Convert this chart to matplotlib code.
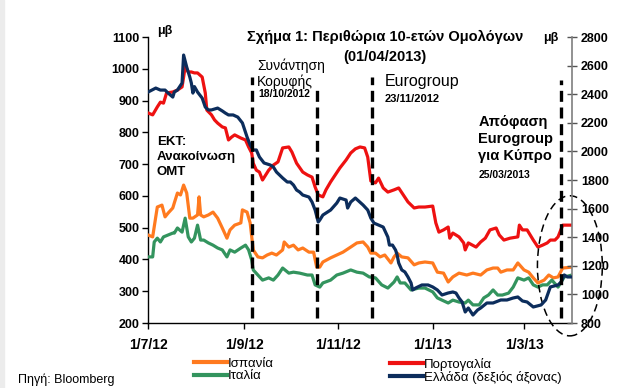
import numpy as np
import pandas as pd
import matplotlib
matplotlib.use("Agg")
import matplotlib.pyplot as plt
from matplotlib.patches import Ellipse, Rectangle
from matplotlib.lines import Line2D

plt.rcParams['font.family'] = ['Liberation Sans', 'DejaVu Sans']

START = pd.Timestamp('2012-07-01')

# days since 1/7/2012 and spreads in basis points
greece_days = [0, 5, 8, 11, 13, 16, 17, 19, 22, 23, 25, 27, 28, 29, 30, 32, 35, 37, 39, 41,
               45, 48, 50, 52, 55, 58, 61, 64, 66, 68, 70, 72, 75, 79, 81, 83, 85, 87, 90, 92,
               94, 96, 98, 100, 104, 106, 108, 110, 111, 113, 118, 122, 124, 128, 129, 131, 134,
               139, 142, 144, 146, 149, 152, 155, 156, 158, 160, 161, 162, 164, 166, 168, 170,
               171, 173, 177, 181, 184, 187, 190, 194, 197, 199, 201, 203, 205, 207, 210, 213,
               215, 219, 223, 228, 232, 236, 239, 242, 245, 249, 254, 257, 260, 265, 267, 269,
               271, 274]
greece = [2415, 2443, 2429, 2429, 2408, 2380, 2415, 2429, 2478, 2674, 2590, 2520, 2478, 2408,
          2453, 2415, 2373, 2310, 2290, 2290, 2303, 2283, 2268, 2255, 2255, 2240, 2199, 2101,
          2045, 2010, 2010, 1961, 1919, 1905, 1891, 1856, 1835, 1814, 1786, 1786, 1765, 1730,
          1716, 1695, 1681, 1646, 1590, 1506, 1520, 1555, 1590, 1639, 1674, 1660, 1604, 1646,
          1674, 1625, 1590, 1534, 1499, 1485, 1471, 1401, 1345, 1345, 1310, 1276, 1220, 1171,
          1157, 1122, 1080, 1031, 1045, 1066, 1066, 1052, 1031, 996, 1010, 1017, 1010, 975,
          947, 877, 905, 856, 891, 905, 940, 940, 961, 961, 975, 982, 954, 947, 912, 926, 961,
          1052, 1066, 1087, 1136, 1122, 1122]

portugal_days = [0, 3, 6, 8, 10, 12, 16, 19, 22, 23, 24, 26, 28, 30, 32, 35, 37, 38, 41, 43,
                 45, 48, 50, 52, 54, 56, 60, 63, 65, 67, 68, 70, 72, 74, 78, 81, 84, 87, 91, 93,
                 96, 100, 103, 106, 108, 110, 113, 115, 118, 121, 124, 128, 131, 134, 137, 140,
                 142, 144, 147, 149, 152, 155, 159, 162, 165, 168, 172, 175, 179, 184, 186, 188,
                 191, 194, 195, 197, 201, 204, 205, 207, 212, 215, 218, 221, 225, 227, 230, 234,
                 239, 240, 242, 245, 249, 252, 255, 258, 260, 263, 265, 268, 274]
portugal = [861, 855, 880, 895, 892, 924, 927, 933, 943, 974, 1006, 990, 990, 987, 987, 974,
            924, 870, 855, 839, 829, 817, 814, 776, 785, 792, 782, 776, 754, 735, 703, 681, 675,
            650, 681, 697, 707, 751, 754, 738, 703, 675, 666, 659, 628, 603, 597, 619, 644, 666,
            688, 713, 735, 748, 754, 751, 722, 647, 641, 656, 625, 612, 619, 625, 603, 581, 562,
            565, 565, 568, 515, 486, 493, 502, 467, 483, 471, 452, 430, 452, 439, 455, 467, 493,
            499, 477, 461, 467, 471, 508, 493, 493, 461, 439, 445, 452, 461, 461, 471, 508, 508]

spain_days = [0, 3, 5, 6, 9, 11, 13, 16, 17, 19, 21, 23, 25, 27, 29, 32, 33, 34, 36, 39, 42,
              45, 48, 51, 53, 56, 60, 61, 64, 66, 68, 71, 74, 77, 80, 83, 87, 88, 91, 94, 97,
              100, 104, 107, 109, 111, 113, 118, 122, 126, 131, 135, 139, 142, 144, 147, 150,
              153, 157, 159, 161, 164, 168, 172, 175, 179, 184, 187, 191, 194, 197, 201, 206,
              210, 215, 219, 223, 226, 228, 232, 236, 239, 243, 246, 249, 252, 256, 259, 262,
              265, 268, 274]
spain = [477, 471, 534, 565, 571, 534, 546, 562, 578, 609, 603, 634, 609, 530, 530, 540, 597,
         540, 534, 540, 549, 530, 499, 467, 493, 508, 515, 556, 549, 515, 430, 408, 405, 414,
         420, 414, 430, 455, 439, 445, 430, 436, 423, 423, 376, 376, 392, 405, 414, 423, 439,
         452, 455, 439, 420, 420, 408, 414, 389, 408, 420, 408, 405, 383, 389, 392, 389, 360,
         357, 329, 345, 357, 351, 357, 351, 367, 373, 373, 360, 367, 367, 389, 367, 360, 342,
         326, 335, 351, 342, 345, 373, 376]

italy_days = [0, 3, 4, 6, 8, 10, 13, 16, 17, 19, 22, 24, 26, 28, 30, 32, 34, 36, 39, 42, 45,
              48, 51, 53, 56, 60, 63, 65, 67, 68, 71, 74, 78, 81, 84, 87, 91, 94, 98, 103, 106,
              108, 111, 113, 118, 122, 126, 131, 135, 139, 143, 147, 151, 155, 159, 161, 163,
              166, 170, 175, 179, 184, 187, 190, 194, 197, 201, 205, 207, 210, 214, 217, 220,
              223, 226, 229, 233, 236, 239, 243, 246, 249, 252, 255, 258, 261, 265, 267, 269, 274]
italy = [408, 408, 455, 467, 455, 471, 477, 483, 483, 499, 486, 530, 471, 455, 467, 508, 461,
         461, 452, 445, 436, 430, 408, 430, 423, 436, 445, 430, 398, 367, 351, 335, 342, 335,
         351, 373, 357, 360, 357, 351, 351, 320, 313, 326, 335, 351, 357, 367, 360, 357, 345,
         342, 320, 310, 329, 345, 326, 326, 304, 310, 310, 298, 279, 272, 263, 272, 266, 263,
         272, 257, 257, 279, 288, 304, 288, 288, 294, 313, 342, 335, 342, 320, 313, 320, 320,
         335, 313, 329, 345, 351]

events = ['2012-09-06', '2012-10-18', '2012-11-23', '2013-03-25']
event_tops = [975, 950, 975, 965]  # top of each dashed line, left axis units
month_ticks = ['2012-07-01', '2012-09-01', '2012-11-01', '2013-01-01', '2013-03-01']
month_labels = ['1/7/12', '1/9/12', '1/11/12', '1/1/13', '1/3/13']

c_spain = '#FF7A1F'
c_italy = '#33945E'
c_portugal = '#EE1111'
c_greece = '#0C2D5C'


def to_dates(days):
    return START + pd.to_timedelta(days, unit='D')


fig = plt.figure(figsize=(6.23, 3.88), dpi=100)
fig.patches.append(Rectangle((0, 0), 0.007, 1, transform=fig.transFigure,
                             color='#ececec', zorder=0))
ax = fig.add_axes([0.2376, 0.1675, 0.6805, 0.7371])
ax2 = ax.twinx()

lw = 2.3
ax.plot(to_dates(spain_days), spain, color=c_spain, lw=lw, zorder=3)
ax.plot(to_dates(italy_days), italy, color=c_italy, lw=lw, zorder=3)
ax.plot(to_dates(portugal_days), portugal, color=c_portugal, lw=lw, zorder=3)
ax2.plot(to_dates(greece_days), greece, color=c_greece, lw=lw, zorder=3)

for d, top in zip(events, event_tops):
    ax2.plot([pd.Timestamp(d)] * 2,
             [800 + (215 - 200) * 2000 / 900, 800 + (top - 200) * 2000 / 900],
             color='black', lw=2.4, linestyle=(0, (3.3, 1.7)), zorder=4)

ax.set_xlim(START, pd.Timestamp('2013-04-01'))
ax.set_ylim(200, 1100)
ax2.set_ylim(800, 2800)
ax.set_yticks(np.arange(200, 1101, 100))
ax2.set_yticks(np.arange(800, 2801, 200))
ax.set_xticks(pd.to_datetime(month_ticks))
ax.set_xticklabels(month_labels)

for a in (ax, ax2):
    a.spines['top'].set_visible(False)
ax.spines['right'].set_visible(False)
ax2.spines['left'].set_visible(False)
ax2.spines['bottom'].set_visible(False)
ax2.spines['right'].set_color('#7f7f7f')
ax2.spines['right'].set_linewidth(1.2)
ax.spines['left'].set_linewidth(1.0)
ax.spines['bottom'].set_linewidth(1.0)

ax.tick_params(axis='y', direction='out', length=4, width=1, pad=2,
               labelsize=9)
ax.tick_params(axis='x', direction='out', length=4, width=1, pad=7,
               labelsize=10)
ax2.tick_params(axis='y', direction='inout', length=7, width=1, colors='#555555',
                labelcolor='black', pad=3, labelsize=9)
for lab in ax.get_yticklabels() + ax.get_xticklabels() + ax2.get_yticklabels():
    lab.set_fontweight('bold')

# titles and unit labels
fig.text(0.618, 0.904, 'Σχήμα 1: Περιθώρια 10-ετών Ομολόγων', ha='center', va='center',
         fontsize=10.5, fontweight='bold')
fig.text(0.618, 0.853, '(01/04/2013)', ha='center', va='center', fontsize=10.5,
         fontweight='bold')
fig.text(0.252, 0.920, 'μβ', ha='left', va='center', fontsize=9, fontweight='bold')
fig.text(0.872, 0.903, 'μβ', ha='left', va='center', fontsize=9, fontweight='bold')

# event annotations
fig.text(0.252, 0.595, 'ΕΚΤ:\nΑνακοίνωση\nΟΜΤ', ha='left', va='center', fontsize=9.5,
         fontweight='bold', linespacing=1.3)
fig.text(0.413, 0.81, 'Συνάντηση\nΚορυφής', ha='left', va='center', fontsize=10,
         linespacing=1.05)
fig.text(0.415, 0.757, '18/10/2012', ha='left', va='center', fontsize=7.5,
         fontweight='bold')
fig.text(0.618, 0.790, 'Eurogroup', ha='left', va='center', fontsize=11.5)
fig.text(0.618, 0.745, '23/11/2012', ha='left', va='center', fontsize=8,
         fontweight='bold')
fig.text(0.768, 0.642, 'Απόφαση\nEurogroup\nγια Κύπρο', ha='left', va='center',
         fontsize=10.5, fontweight='bold', linespacing=1.3)
fig.text(0.768, 0.548, '25/03/2013', ha='left', va='center', fontsize=7.5,
         fontweight='bold')

ax.add_patch(Ellipse((0.995, 0.20), 0.153, 0.49, transform=ax.transAxes, fill=False,
                     edgecolor='black', lw=1.1, linestyle=(0, (5, 3)), clip_on=False,
                     zorder=5))

# legend
h1 = [Line2D([], [], color=c_spain, lw=3), Line2D([], [], color=c_italy, lw=3)]
h2 = [Line2D([], [], color=c_portugal, lw=3), Line2D([], [], color=c_greece, lw=3)]
kw = dict(frameon=False, fontsize=9.5, handlelength=2.5, handletextpad=0.1,
          labelspacing=0.0, borderaxespad=0, borderpad=0)
fig.legend(h1, ['Ισπανία', 'Ιταλία'], loc='upper left', bbox_to_anchor=(0.311, 0.078), **kw)
fig.legend(h2, ['Πορτογαλία', 'Ελλάδα (δεξιός άξονας)'], loc='upper left',
           bbox_to_anchor=(0.626, 0.078), **kw)

fig.text(0.029, 0.02, 'Πηγή: Bloomberg', ha='left', va='center', fontsize=9)

fig.savefig('out.png', dpi=100)
